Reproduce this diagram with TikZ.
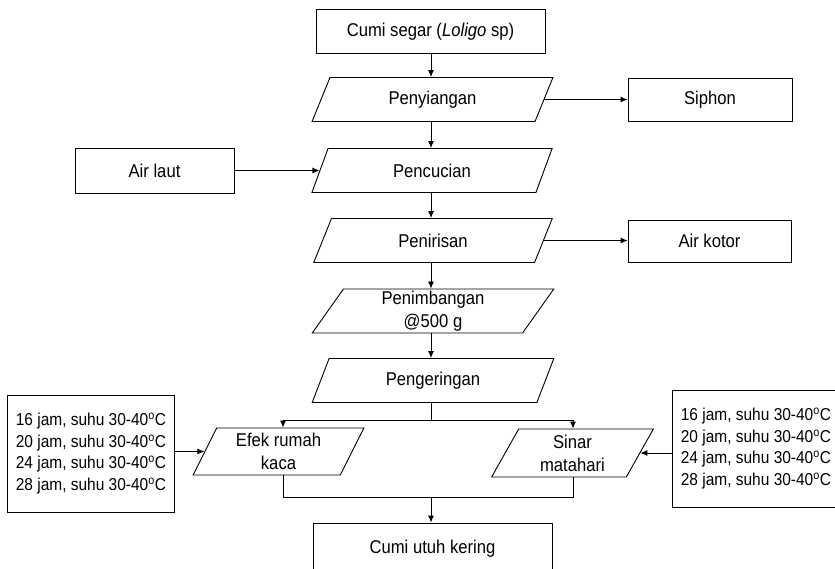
\documentclass[tikz,border=0pt]{standalone}
\usepackage{fontspec}
\setmainfont{Liberation Sans}[FakeStretch=0.9]
\usetikzlibrary{shapes.geometric,arrows.meta}
\newcommand{\degC}{\textsuperscript{o}C}
\begin{document}
\begin{tikzpicture}[x=1pt,y=-1pt,
  line width=0.9pt,
  every node/.style={font=\fontsize{18.5}{23}\selectfont, inner sep=0pt, align=center},
  procbox/.style={draw, rectangle, minimum width=#1, minimum height=44pt},
  stepshape/.style={draw, trapezium, trapezium left angle=66, trapezium right angle=114,
    trapezium stretches=true, minimum width=#1, minimum height=44pt},
  condbox/.style={draw, rectangle, anchor=west, align=left, minimum width=#1,
    minimum height=117pt, font=\fontsize{17.2}{21.5}\selectfont},
  arr/.style={-{Latex[length=7pt,width=6pt]}},
]
\useasboundingbox (0,0) rectangle (835,568);

% main process column
\node[procbox=229pt] (raw) at (430.5,31.5) {Cumi segar (\textit{Loligo} sp)};
\node[stepshape=241pt] (clean) at (432.5,99.5) {Penyiangan};
\node[stepshape=241pt] (wash) at (432,170.5) {Pencucian};
\node[stepshape=240pt] (drain) at (433,240.5) {Penirisan};
\node[stepshape=242pt] (weigh) at (433,311) {Penimbangan\\@500 g};
\node[stepshape=242pt] (dry) at (433,380.5) {Pengeringan};

% drying methods
\node[stepshape=171pt, minimum height=47pt] (green) at (278.5,451.5) {Efek rumah\\kaca};
\node[stepshape=163pt, minimum height=48pt] (sun) at (572.5,453) {Sinar\\matahari};

% product
\node[procbox=239pt, minimum height=52pt] (final) at (432.5,549) {Cumi utuh kering};

% side inputs and outputs
\node[procbox=164pt, minimum height=43pt] (siphon) at (710,99.5) {Siphon};
\node[procbox=159pt, minimum height=45pt] (seawater) at (154.5,170.5) {Air laut};
\node[procbox=163pt, minimum height=42pt] (dirty) at (709.5,241) {Air kotor};

\node[condbox=167pt] (condA) at (7,453.5) {16 jam, suhu 30-40\degC\\20 jam, suhu 30-40\degC\\24 jam, suhu 30-40\degC\\28 jam, suhu 30-40\degC};
\node[condbox=167pt] (condB) at (672,448.5) {16 jam, suhu 30-40\degC\\20 jam, suhu 30-40\degC\\24 jam, suhu 30-40\degC\\28 jam, suhu 30-40\degC};

% junction points
\coordinate (split) at (431,420);
\coordinate (join) at (431,497.5);

% connectors
\draw[arr] (raw.south -| 431,0) -- (clean.north -| 431,0);
\draw[arr] (clean.south -| 431,0) -- (wash.north -| 431,0);
\draw[arr] (wash.south -| 431,0) -- (drain.north -| 431,0);
\draw[arr] (drain.south -| 431,0) -- (weigh.north -| 431,0);
\draw[arr] (weigh.south -| 431,0) -- (dry.north -| 431,0);
\draw[arr] (clean.east) -- (clean.east -| siphon.west);
\draw[arr] (seawater.east) -- (seawater.east -| wash.west);
\draw[arr] (drain.east) -- (drain.east -| dirty.west);
\draw (dry.south -| 431,0) -- (split);
\draw[arr] (split) -| (283,0 |- green.north);
\draw[arr] (split) -| (573,0 |- sun.north);
\draw (283,0 |- green.south) |- (join);
\draw (573,0 |- sun.south) |- (join);
\draw[arr] (join) -- (final.north -| 431,0);
\draw[arr] (green.west -| condA.east) -- (green.west);
\draw[arr] (condB.west |- sun.east) -- (sun.east);
\end{tikzpicture}
\end{document}
